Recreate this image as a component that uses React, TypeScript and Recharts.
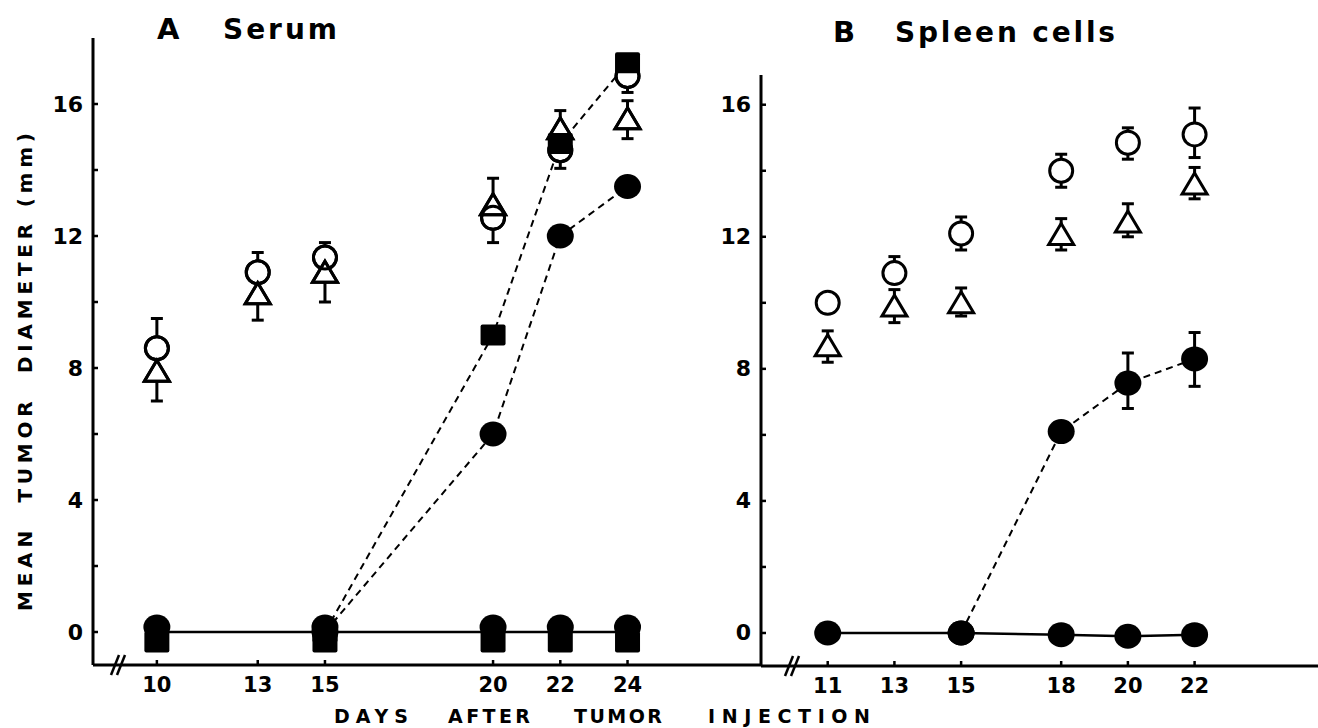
import { ComposedChart, Line, Scatter, XAxis, YAxis, ErrorBar } from 'recharts'

// Panel A (serum)
const aTicksX = [10, 13, 15, 20, 22, 24]
const aOpenCircleDays = [10, 13, 15, 20, 22, 24]
const aOpenCircle = [8.6, 10.9, 11.35, 12.55, 14.6, 16.85]
const aOpenCircleLo = [0, 0, 0, 0.75, 0.55, 0.5]
const aOpenCircleHi = [0.9, 0.6, 0.45, 0, 0, 0]
const aTriangleDays = [10, 13, 15, 20, 22, 24]
const aTriangle = [7.9, 10.25, 10.9, 12.95, 15.25, 15.55]
const aTriangleLo = [0.9, 0.8, 0.9, 0, 0, 0.6]
const aTriangleHi = [0, 0, 0, 0.8, 0.55, 0.55]
const aSquareDays = [15, 20, 22, 24]
const aSquare = [0, 9.0, 14.8, 17.25]
const aDotDays = [15, 20, 22, 24]
const aDot = [0, 6.0, 12.0, 13.5]
const aZeroDays = [10, 15, 20, 22, 24]
const aZeroLine = [0, 0, 0, 0, 0]
const aZeroDot = [0.15, 0.15, 0.15, 0.15, 0.15]
const aZeroSquare = [-0.3, -0.3, -0.3, -0.3, -0.3]

// Panel B (spleen cells)
const bTicksX = [11, 13, 15, 18, 20, 22]
const bOpenCircleDays = [11, 13, 15, 18, 20, 22]
const bOpenCircle = [10.0, 10.9, 12.1, 14.0, 14.85, 15.1]
const bOpenCircleLo = [0, 0, 0.5, 0.5, 0.5, 0.7]
const bOpenCircleHi = [0, 0.5, 0.5, 0.5, 0.45, 0.8]
const bTriangleDays = [11, 13, 15, 18, 20, 22]
const bTriangle = [8.7, 9.9, 10.0, 12.07, 12.45, 13.6]
const bTriangleLo = [0.5, 0.5, 0.4, 0.47, 0.45, 0.45]
const bTriangleHi = [0.45, 0.5, 0.45, 0.48, 0.55, 0.5]
const bDotDays = [15, 18, 20, 22]
const bDot = [0, 6.1, 7.57, 8.3]
const bDotLo = [0, 0, 0.77, 0.83]
const bDotHi = [0, 0, 0.91, 0.8]
const bZeroDays = [11, 15, 18, 20, 22]
const bZero = [0, 0, -0.05, -0.1, -0.05]

const yTicks = [0, 2, 4, 6, 8, 10, 12, 14, 16]

const xLabelWords = ['DAYS', 'AFTER', 'TUMOR', 'INJECTION']

const pts = (days: number[], ys: number[], lo?: number[], hi?: number[]) =>
  days.map((d, i) => ({ x: d, y: ys[i], err: [lo ? lo[i] : 0, hi ? hi[i] : 0] }))

const FONT = '"DejaVu Sans", sans-serif'

const YTick = (props: any) => {
  const { x, y, payload } = props
  const v = payload.value
  return (
    <g>
      <line x1={x} x2={x + 5} y1={y} y2={y} stroke="#000" strokeWidth={2.5} />
      {v % 4 === 0 && (
        <text x={x - 10} y={y} textAnchor="end" dominantBaseline="central"
          fontFamily={FONT} fontWeight={700} fontSize={22} fill="#000">{v}</text>
      )}
    </g>
  )
}

const XTick = (props: any) => {
  const { x, y, payload } = props
  return (
    <g>
      <line x1={x} x2={x} y1={y} y2={y - 5} stroke="#000" strokeWidth={2.5} />
      <text x={x} y={y + 20} textAnchor="middle" dominantBaseline="central"
        fontFamily={FONT} fontWeight={700} fontSize={21} fill="#000">{payload.value}</text>
    </g>
  )
}

const openCircle = (fill: string) => (p: any) =>
  <circle cx={p.cx} cy={p.cy} r={11.5} fill={fill} stroke="#000" strokeWidth={3} />
const openTriangle = (fill: string) => (p: any) =>
  <path d={`M${p.cx},${p.cy - 11} L${p.cx + 12.5},${p.cy + 10} L${p.cx - 12.5},${p.cy + 10} Z`}
    fill={fill} stroke="#000" strokeWidth={3} strokeLinejoin="miter" />
const filledDot = (p: any) => <ellipse cx={p.cx} cy={p.cy} rx={13.5} ry={12.5} fill="#000" />
const filledSquare = (p: any) =>
  <rect x={p.cx - 12.5} y={p.cy - 10.5} width={25} height={21} rx={2} fill="#000" />

const axisLine = { stroke: '#000', strokeWidth: 3 }
const errProps = { dataKey: 'err', direction: 'y' as const, width: 6, stroke: '#000', strokeWidth: 3, isAnimationActive: false }

function PanelA() {
  return (
    <ComposedChart width={762} height={728} margin={{ top: 38, right: 0, bottom: 0, left: 33 }}>
      <XAxis type="number" dataKey="x" domain={[8.1, 28]} allowDataOverflow ticks={aTicksX}
        axisLine={axisLine} tickLine={false} tickSize={0} tickMargin={0} height={63} tick={<XTick />} />
      <YAxis type="number" domain={[-1, 18]} allowDataOverflow ticks={yTicks} width={60}
        axisLine={axisLine} tickLine={false} tickSize={0} tickMargin={0} tick={<YTick />} />
      <Line data={pts(aSquareDays, aSquare)} dataKey="y" stroke="#000" strokeWidth={2}
        strokeDasharray="7 5" dot={false} isAnimationActive={false} />
      <Line data={pts(aDotDays, aDot)} dataKey="y" stroke="#000" strokeWidth={2}
        strokeDasharray="7 5" dot={false} isAnimationActive={false} />
      <Line data={pts(aZeroDays, aZeroLine)} dataKey="y" stroke="#000" strokeWidth={2.5}
        dot={false} isAnimationActive={false} />
      <Scatter data={pts(aOpenCircleDays, aOpenCircle, aOpenCircleLo, aOpenCircleHi)} dataKey="y"
        shape={openCircle('#fff')} isAnimationActive={false}>
        <ErrorBar {...errProps} />
      </Scatter>
      <Scatter data={pts(aTriangleDays, aTriangle, aTriangleLo, aTriangleHi)} dataKey="y"
        shape={openTriangle('#fff')} isAnimationActive={false}>
        <ErrorBar {...errProps} />
      </Scatter>
      <Scatter data={pts(aOpenCircleDays, aOpenCircle)} dataKey="y" shape={openCircle('none')} isAnimationActive={false} />
      <Scatter data={pts(aTriangleDays, aTriangle)} dataKey="y" shape={openTriangle('none')} isAnimationActive={false} />
      <Scatter data={pts(aZeroDays, aZeroSquare)} dataKey="y" shape={filledSquare} isAnimationActive={false} />
      <Scatter data={pts(aZeroDays, aZeroDot)} dataKey="y" shape={filledDot} isAnimationActive={false} />
      <Scatter data={pts(aDotDays, aDot)} dataKey="y" shape={filledDot} isAnimationActive={false} />
      <Scatter data={pts(aSquareDays, aSquare)} dataKey="y" shape={filledSquare} isAnimationActive={false} />
    </ComposedChart>
  )
}

function PanelB() {
  return (
    <ComposedChart width={1318} height={728} margin={{ top: 75, right: 0, bottom: 0, left: 701 }}>
      <XAxis type="number" dataKey="x" domain={[9, 25.7]} allowDataOverflow ticks={bTicksX}
        axisLine={axisLine} tickLine={false} tickSize={0} tickMargin={0} height={62} tick={<XTick />} />
      <YAxis type="number" domain={[-1, 16.9]} allowDataOverflow ticks={yTicks} width={60}
        axisLine={axisLine} tickLine={false} tickSize={0} tickMargin={0} tick={<YTick />} />
      <Line data={pts(bDotDays, bDot)} dataKey="y" stroke="#000" strokeWidth={2}
        strokeDasharray="7 5" dot={false} isAnimationActive={false} />
      <Line data={pts(bZeroDays, bZero)} dataKey="y" stroke="#000" strokeWidth={2.5}
        dot={false} isAnimationActive={false} />
      <Scatter data={pts(bOpenCircleDays, bOpenCircle, bOpenCircleLo, bOpenCircleHi)} dataKey="y"
        shape={openCircle('#fff')} isAnimationActive={false}>
        <ErrorBar {...errProps} />
      </Scatter>
      <Scatter data={pts(bTriangleDays, bTriangle, bTriangleLo, bTriangleHi)} dataKey="y"
        shape={openTriangle('#fff')} isAnimationActive={false}>
        <ErrorBar {...errProps} />
      </Scatter>
      <Scatter data={pts(bDotDays, bDot, bDotLo, bDotHi)} dataKey="y" shape={filledDot} isAnimationActive={false}>
        <ErrorBar {...errProps} />
      </Scatter>
      <Scatter data={pts(bZeroDays, bZero)} dataKey="y" shape={filledDot} isAnimationActive={false} />
    </ComposedChart>
  )
}

// word placement for the spaced-out x title: [start, length]
const xWordPos = [[334, 74], [448, 82], [574, 88], [708, 162]]

export default function App() {
  const label = { fontFamily: FONT, fontWeight: 700, fill: '#000' }
  return (
    <div style={{ position: 'absolute', left: 0, top: 0, width: 1318, height: 728, background: '#fff' }}>
      <div style={{ position: 'absolute', left: 0, top: 0 }}><PanelA /></div>
      <div style={{ position: 'absolute', left: 0, top: 0 }}><PanelB /></div>
      <svg width={1318} height={728} style={{ position: 'absolute', left: 0, top: 0, pointerEvents: 'none' }}>
        <text x={157} y={29} dominantBaseline="central" fontSize={29} {...label}>A</text>
        <text x={223} y={29} dominantBaseline="central" fontSize={28} textLength={114} lengthAdjust="spacing" {...label}>Serum</text>
        <text x={833} y={32} dominantBaseline="central" fontSize={29} {...label}>B</text>
        <text x={895} y={32} dominantBaseline="central" fontSize={28} textLength={220} lengthAdjust="spacing" {...label}>Spleen cells</text>
        {xLabelWords.map((w, i) => (
          <text key={w} x={xWordPos[i][0]} y={716} dominantBaseline="central" fontSize={19}
            textLength={xWordPos[i][1]} lengthAdjust="spacing" {...label}>{w}</text>
        ))}
        <text transform="translate(25,372) rotate(-90)" textAnchor="middle" dominantBaseline="central" fontSize={20}
          textLength={478} lengthAdjust="spacing" style={{ whiteSpace: 'pre' }} {...label}>MEAN  TUMOR  DIAMETER (mm)</text>
        <g stroke="#000" strokeWidth={2.5}>
          <line x1={111} y1={675} x2={119} y2={655} />
          <line x1={117} y1={675} x2={125} y2={655} />
          <line x1={785} y1={676} x2={793} y2={656} />
          <line x1={791} y1={676} x2={799} y2={656} />
        </g>
      </svg>
    </div>
  )
}
